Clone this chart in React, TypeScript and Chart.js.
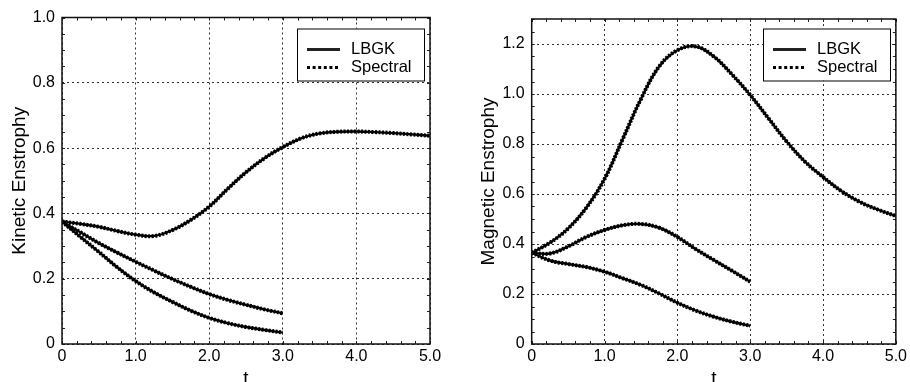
import React, { useEffect, useRef } from 'react';
import { Chart, registerables } from 'chart.js';

Chart.register(...registerables);

// ---- data ----
const tLong = [0, 0.25, 0.5, 0.75, 1.0, 1.25, 1.5, 1.75, 2.0, 2.25, 2.5, 2.75, 3.0, 3.25, 3.5, 3.75, 4.0, 4.25, 4.5, 4.75, 5.0];
const tShort = [0, 0.25, 0.5, 0.75, 1.0, 1.25, 1.5, 1.75, 2.0, 2.25, 2.5, 2.75, 3.0];

const kineticA = [0.375, 0.368, 0.359, 0.346, 0.335, 0.331, 0.349, 0.38, 0.421, 0.475, 0.526, 0.569, 0.603, 0.63, 0.645, 0.650, 0.651, 0.649, 0.646, 0.642, 0.638];
const kineticB = [0.375, 0.342, 0.309, 0.28, 0.252, 0.225, 0.199, 0.175, 0.153, 0.135, 0.12, 0.106, 0.094];
const kineticC = [0.375, 0.328, 0.282, 0.235, 0.193, 0.158, 0.129, 0.102, 0.08, 0.064, 0.052, 0.043, 0.035];

const magneticA = [0.365, 0.405, 0.462, 0.545, 0.66, 0.82, 0.98, 1.11, 1.175, 1.19, 1.15, 1.078, 0.996, 0.903, 0.81, 0.73, 0.668, 0.612, 0.569, 0.538, 0.512];
const magneticB = [0.365, 0.362, 0.39, 0.428, 0.456, 0.475, 0.48, 0.465, 0.428, 0.38, 0.336, 0.293, 0.249];
const magneticC = [0.365, 0.334, 0.32, 0.308, 0.289, 0.263, 0.236, 0.202, 0.165, 0.134, 0.109, 0.089, 0.073];

const seriesNames = ['LBGK', 'Spectral'];
const xTitle = 't';
const kineticTitle = 'Kinetic Enstrophy';
const magneticTitle = 'Magnetic Enstrophy';

const FONT = '"Liberation Sans", Arial, Helvetica, sans-serif';
const CANVAS_W = 455;
const CANVAS_H = 394;

const pts = (ts: number[], ys: number[]) => ts.map((t, i) => ({ x: t, y: ys[i] }));

const fmt = (v: number) => (v === 0 ? '0' : Number(v).toFixed(1));

// frame + inward minor ticks
const frameTicks = {
  id: 'frameTicks',
  afterDatasetsDraw(chart: any, _args: any, opts: any) {
    const { ctx, chartArea: a, scales } = chart;
    const xs = scales.x;
    const ys = scales.y;
    ctx.save();
    ctx.strokeStyle = '#222';
    ctx.lineWidth = 1;
    const len = 3;
    const nx = Math.round((xs.max - xs.min) / opts.xMinor);
    for (let i = 0; i <= nx; i++) {
      const px = Math.round(xs.getPixelForValue(xs.min + i * opts.xMinor)) + 0.5;
      ctx.beginPath();
      ctx.moveTo(px, a.bottom);
      ctx.lineTo(px, a.bottom - len);
      ctx.moveTo(px, a.top);
      ctx.lineTo(px, a.top + len);
      ctx.stroke();
    }
    const ny = Math.round((ys.max - ys.min) / opts.yMinor);
    for (let i = 0; i <= ny; i++) {
      const py = Math.round(ys.getPixelForValue(ys.min + i * opts.yMinor)) + 0.5;
      ctx.beginPath();
      ctx.moveTo(a.left, py);
      ctx.lineTo(a.left + len, py);
      ctx.moveTo(a.right, py);
      ctx.lineTo(a.right - len, py);
      ctx.stroke();
    }
    ctx.strokeStyle = '#111';
    ctx.lineWidth = 1.5;
    ctx.strokeRect(a.left, a.top, a.right - a.left, a.bottom - a.top);
    ctx.restore();
  },
};

const boxLegend = {
  id: 'boxLegend',
  afterDraw(chart: any, _args: any, opts: any) {
    const { ctx, chartArea: a } = chart;
    const w = 127;
    const h = 52;
    const x0 = Math.round(a.right - opts.rightGap - w);
    const y0 = opts.top;
    ctx.save();
    ctx.fillStyle = '#fff';
    ctx.fillRect(x0, y0, w, h);
    ctx.strokeStyle = '#000';
    ctx.lineWidth = 1;
    ctx.strokeRect(x0 + 0.5, y0 + 0.5, w, h);
    // solid sample
    ctx.strokeStyle = '#222';
    ctx.lineWidth = 3;
    ctx.beginPath();
    ctx.moveTo(x0 + 10, y0 + 21);
    ctx.lineTo(x0 + 43, y0 + 21);
    ctx.stroke();
    // dotted sample
    ctx.strokeStyle = '#000';
    ctx.lineWidth = 3;
    ctx.setLineDash([3, 2.6]);
    ctx.beginPath();
    ctx.moveTo(x0 + 10, y0 + 39);
    ctx.lineTo(x0 + 43, y0 + 39);
    ctx.stroke();
    ctx.setLineDash([]);
    ctx.fillStyle = '#000';
    ctx.font = '16.5px ' + FONT;
    ctx.textBaseline = 'middle';
    ctx.textAlign = 'left';
    ctx.fillText(opts.labels[0], x0 + 54, y0 + 21);
    ctx.fillText(opts.labels[1], x0 + 54, y0 + 39);
    ctx.restore();
  },
};

type Cfg = {
  curves: { ts: number[]; ys: number[] }[];
  yMax: number;
  yTitle: string;
  yWidth: number;
  padTop: number;
  padRight: number;
  titlePad: number;
};

function makeDatasets(curves: Cfg['curves']) {
  const solid = curves.map((c, i) => ({
    label: seriesNames[0] + ' ' + i,
    data: pts(c.ts, c.ys),
    borderColor: '#000',
    borderWidth: 2.4,
    pointRadius: 0,
    tension: 0.4,
    fill: false,
  }));
  const dotted = curves.map((c, i) => ({
    label: seriesNames[1] + ' ' + i,
    data: pts(c.ts, c.ys),
    borderColor: '#000',
    borderWidth: 4,
    borderDash: [2, 1.5],
    pointRadius: 0,
    tension: 0.4,
    fill: false,
  }));
  return [...solid, ...dotted];
}

function EnstrophyChart({ cfg }: { cfg: Cfg }) {
  const ref = useRef<HTMLCanvasElement>(null);
  useEffect(() => {
    const chart = new Chart(ref.current as HTMLCanvasElement, {
      type: 'line',
      data: { datasets: makeDatasets(cfg.curves) as any },
      plugins: [frameTicks, boxLegend],
      options: {
        animation: false,
        responsive: false,
        devicePixelRatio: 1,
        layout: {
          autoPadding: false,
          padding: { top: cfg.padTop, right: cfg.padRight, left: 0, bottom: 0 },
        },
        plugins: {
          legend: { display: false },
          tooltip: { enabled: false },
          frameTicks: { xMinor: 0.2, yMinor: 0.05 },
          boxLegend: { rightGap: 6, top: 28.5, labels: seriesNames },
        } as any,
        scales: {
          x: {
            type: 'linear',
            min: 0,
            max: 5,
            afterFit: (s: any) => {
              s.height = CANVAS_H - 344;
            },
            ticks: {
              stepSize: 1,
              includeBounds: false,
              padding: 3,
              color: '#000',
              font: { family: FONT, size: 16 },
              callback: (v: any) => fmt(v),
              maxRotation: 0,
              autoSkip: false,
            },
            grid: { color: 'rgba(0,0,0,0.8)', lineWidth: 1, drawTicks: false },
            border: { display: false, dash: [2, 3] },
            title: {
              display: true,
              text: xTitle,
              color: '#000',
              font: { family: FONT, size: 19 },
              padding: { top: 0, bottom: 4 },
            },
          },
          y: {
            type: 'linear',
            min: 0,
            max: cfg.yMax,
            afterFit: (s: any) => {
              s.width = cfg.yWidth;
            },
            ticks: {
              stepSize: 0.2,
              includeBounds: false,
              padding: 7,
              color: '#000',
              font: { family: FONT, size: 16 },
              callback: (v: any) => fmt(v),
              autoSkip: false,
            },
            grid: { color: 'rgba(0,0,0,0.8)', lineWidth: 1, drawTicks: false },
            border: { display: false, dash: [2, 3] },
            title: {
              display: true,
              text: cfg.yTitle,
              color: '#000',
              font: { family: FONT, size: 19 },
              padding: { top: cfg.titlePad, bottom: 0 },
            },
          },
        },
      } as any,
    });
    return () => chart.destroy();
  }, [cfg]);
  return <canvas ref={ref} width={CANVAS_W} height={CANVAS_H} style={{ display: 'block' }} />;
}

const kineticCfg: Cfg = {
  curves: [
    { ts: tLong, ys: kineticA },
    { ts: tShort, ys: kineticB },
    { ts: tShort, ys: kineticC },
  ],
  yMax: 1.0,
  yTitle: kineticTitle,
  yWidth: 62,
  padTop: 17.5,
  padRight: 25,
  titlePad: 8,
};

const magneticCfg: Cfg = {
  curves: [
    { ts: tLong, ys: magneticA },
    { ts: tShort, ys: magneticB },
    { ts: tShort, ys: magneticC },
  ],
  yMax: 1.3,
  yTitle: magneticTitle,
  yWidth: 76.7,
  padTop: 19,
  padRight: 11,
  titlePad: 22,
};

export default function App() {
  return (
    <div
      style={{
        position: 'fixed',
        left: 0,
        top: 0,
        width: 910,
        height: 382,
        overflow: 'hidden',
        background: '#fff',
      }}
    >
      <div style={{ position: 'absolute', left: 0, top: 0 }}>
        <EnstrophyChart cfg={kineticCfg} />
      </div>
      <div style={{ position: 'absolute', left: 455, top: 0 }}>
        <EnstrophyChart cfg={magneticCfg} />
      </div>
    </div>
  );
}
